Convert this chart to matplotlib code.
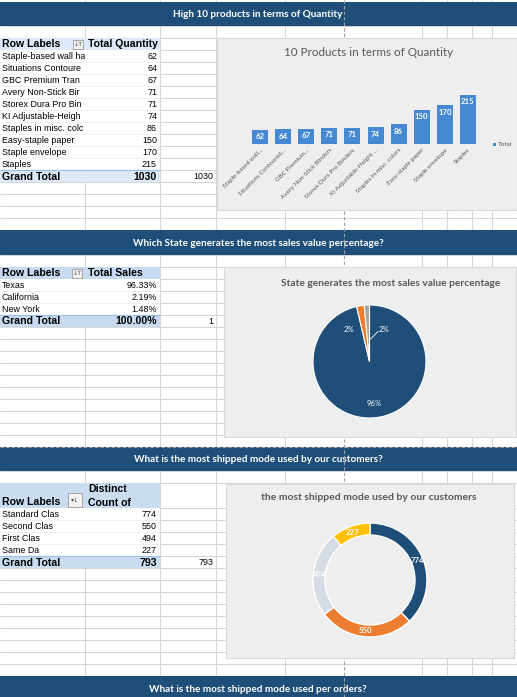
import matplotlib
matplotlib.use('Agg')
import matplotlib.pyplot as plt
from matplotlib.patches import Rectangle

# ---------------- data ----------------
banner_titles = ["High 10 products in terms of Quantity",
                 "Which State generates the most sales value percentage?",
                 "What is the most shipped mode used by our customers?",
                 "What is the most shipped mode used per orders?"]

product_cells = ["Staple-based wall ha", "Situations Contoure", "GBC Premium Tran",
                 "Avery Non-Stick Bir", "Storex Dura Pro Bin", "KI Adjustable-Heigh",
                 "Staples in misc. colc", "Easy-staple paper", "Staple envelope", "Staples"]
product_axis = ["Staple-based wall...", "Situations Contoured...", "GBC Premium...",
                "Avery Non-Stick Binders", "Storex Dura Pro Binders", "KI Adjustable-Height ...",
                "Staples in misc. colors", "Easy-staple paper", "Staple envelope", "Staples"]
quantities = [62, 64, 67, 71, 71, 74, 86, 150, 170, 215]
qty_total = 1030

states = ["Texas", "California", "New York"]
sales_pct = [96.33, 2.19, 1.48]
pie_labels = ["96%", "2%", "2%"]

ship_cells = ["Standard Clas", "Second Clas", "First Clas", "Same Da"]
ship_counts = [774, 550, 494, 227]
ship_total = 793

chart_titles = ["10 Products in terms of Quantity",
                "State generates the most sales value percentage",
                "the most shipped mode used by our customers"]

# ---------------- canvas ----------------
W, H = 517, 697
fig = plt.figure(figsize=(W / 100, H / 100), dpi=100)
bg = fig.add_axes([0, 0, 1, 1])
bg.set_xlim(0, W)
bg.set_ylim(H, 0)
bg.axis('off')


def fbox(x0, y0, x1, y1):
    return [x0 / W, 1 - y1 / H, (x1 - x0) / W, (y1 - y0) / H]


GRID = '#D6D6D6'
DARK = '#1F4E79'
TXT = '#595959'
TABLE_FONT = 'Liberation Sans'
CHART_FONT = 'Lato'

# row boundaries
hl = [26 + 12 * k for k in range(18)] + [255 + 12 * k for k in range(17)] + \
     [471, 483] + [508 + 12 * k for k in range(15)]
bg.hlines(hl, 0, W, color=GRID, lw=0.8, zorder=1)
cols = [85, 160, 216, 285, 422, 447, 472, 492]
bg.vlines(cols, 0, H, color=GRID, lw=0.8, zorder=1)

# banners
banner_rows = [(2, 26), (230, 255), (447, 471), (676, 700)]
for (y0, y1), t in zip(banner_rows, banner_titles):
    bg.add_patch(Rectangle((0, y0), W, y1 - y0, fc=DARK, ec='none', zorder=5))
    yc = (y0 + y1) / 2 + 0.5 if y1 < 697 else 689
    bg.text(258, yc, t, color='white',
            fontsize=7.2, fontweight='bold', family=CHART_FONT,
            ha='center', va='center', zorder=6)

# page-break dashed lines
bg.vlines([344], 0, H, color='#A0A0A0', lw=0.8, linestyles=(0, (3, 2)), zorder=7)
bg.hlines([447], 0, W, color='#A0A0A0', lw=0.8, linestyles=(0, (3, 2)), zorder=7)


def clip_text(x, y, s, x0, x1, **kw):
    t = bg.text(x, y, s, clip_on=True, family=TABLE_FONT, zorder=4, **kw)
    r = Rectangle((x0, 0), x1 - x0, H, transform=bg.transData)
    t.set_clip_path(r)
    return t


def pivot(top, hdr_h, hdr_lines, labels, values, total_txt, colc_txt,
          hdr_fill, tot_fill, icon_box):
    # header
    bg.add_patch(Rectangle((0, top), 160, hdr_h, fc=hdr_fill, ec='none', zorder=2))
    clip_text(2, top + hdr_h - 6, "Row Labels", 0, 85, fontsize=7.6,
              fontweight='bold', va='center')
    if len(hdr_lines) == 1:
        clip_text(88, top + hdr_h - 6, hdr_lines[0], 85, 160, fontsize=7.6,
                  fontweight='bold', va='center')
    else:
        clip_text(88, top + 6, hdr_lines[0], 85, 160, fontsize=7.6,
                  fontweight='bold', va='center')
        clip_text(88, top + 19.5, hdr_lines[1], 85, 160, fontsize=7.6,
                  fontweight='bold', va='center')
    ix0, iy0, ix1, iy1, sym = icon_box
    bg.add_patch(Rectangle((ix0, iy0), ix1 - ix0, iy1 - iy0, fc='#F2F2F2',
                           ec='#9A9A9A', lw=0.6, zorder=3))
    bg.text((ix0 + ix1) / 2, (iy0 + iy1) / 2, sym, fontsize=4.5, color='#555555',
            ha='center', va='center', zorder=4, family='DejaVu Sans')
    # body
    y = top + hdr_h
    nb = len(labels)
    bg.add_patch(Rectangle((0, y), 160, 12 * nb, fc='white', ec='none', zorder=2))
    for i, (lab, v) in enumerate(zip(labels, values)):
        yc = y + 12 * i + 6.5
        clip_text(2, yc, lab, 0, 85, fontsize=6.4, va='center')
        clip_text(157, yc, v, 85, 160, fontsize=6.4, va='center', ha='right')
        bg.hlines(y + 12 * (i + 1), 0, 160, color='#EBEBEB', lw=0.6, zorder=3)
    # total
    ty = y + 12 * nb
    bg.add_patch(Rectangle((0, ty), 160, 12, fc=tot_fill, ec='none', zorder=2))
    bg.hlines(ty, 0, 160, color='#9BC2E6', lw=0.9, zorder=3)
    clip_text(2, ty + 6.5, "Grand Total", 0, 85, fontsize=7.6, fontweight='bold', va='center')
    clip_text(157, ty + 6.5, total_txt, 85, 160, fontsize=7.6, fontweight='bold',
              va='center', ha='right')
    clip_text(213, ty + 6.5, colc_txt, 160, 216, fontsize=6.4, va='center', ha='right')


pivot(38, 12, ["Total Quantity"], product_cells, [str(q) for q in quantities],
      str(qty_total), str(qty_total), '#DDE9F6', '#DDE9F6', (73, 40, 83, 49, '↓T'))
pivot(267, 12, ["Total Sales"], states, [f"{p:.2f}%" for p in sales_pct],
      f"{sum(sales_pct):.2f}%", "1", '#C8DAF0', '#C8DAF0', (72, 269, 82, 278, '↓T'))
pivot(483, 25, ["Distinct", "Count of"], ship_cells, [str(c) for c in ship_counts],
      str(ship_total), str(ship_total), '#CADCF0', '#CADCF0', (68, 493, 82, 507, '▾↓'))

# chart boxes (drawn above the page-break line)
CHART_BG = '#EEEEEE'
for (x0, y0, x1, y1) in [(217, 38, 517, 210), (224, 267, 516, 437), (226, 484, 514, 658)]:
    bg.add_patch(Rectangle((x0, y0), x1 - x0, y1 - y0, fc=CHART_BG, ec='#D9D9D9',
                           lw=0.8, zorder=8))

# ---------- bar chart ----------
bg.text(369, 52, chart_titles[0], fontsize=8.4, color=TXT, family=CHART_FONT,
        ha='center', va='center', zorder=9)
ax = fig.add_axes(fbox(248.5, 87, 479.5, 144))
ax.patch.set_alpha(0)
x = list(range(len(quantities)))
ax.bar(x, quantities, width=0.69, color='#4589D2', zorder=2)
ax.set_xlim(-0.5, len(quantities) - 0.5)
ax.set_ylim(0, 250)
for s in ax.spines.values():
    s.set_visible(False)
ax.set_yticks([])
ax.set_xticks(x)
ax.set_xticklabels(product_axis, rotation=45, ha='right', rotation_mode='anchor',
                   fontsize=4.6, color=TXT, family=CHART_FONT)
ax.tick_params(axis='x', length=0, pad=2.5)
for xi, v in zip(x, quantities):
    ax.annotate(str(v), (xi, v), xytext=(0, -2.5), textcoords='offset points',
                ha='center', va='top', color='white', fontweight='bold',
                fontsize=5.6, family=CHART_FONT)
bg.add_patch(Rectangle((493, 142.5), 3, 3, fc='#4589D2', ec='none', zorder=9))
bg.text(497.5, 144, "Total", fontsize=4.6, color=TXT, family=CHART_FONT,
        va='center', ha='left', zorder=9)

# ---------- pie chart ----------
bg.text(391, 283, chart_titles[1], fontsize=7.3, color=TXT, fontweight='bold',
        family=CHART_FONT, ha='center', va='center', zorder=9)
R = 56.5
m = 62
axp = fig.add_axes(fbox(369.5 - m, 361.5 - m, 369.5 + m, 361.5 + m))
wedges, texts, autos = axp.pie(sales_pct, colors=[DARK, '#ED7D31', '#A5A5A5'],
                               startangle=90, counterclock=False,
                               wedgeprops=dict(edgecolor='white', linewidth=0.8),
                               autopct='%1.0f%%', pctdistance=0.74,
                               textprops=dict(color='white', fontsize=5.6,
                                              family=CHART_FONT))
for a, lab in zip(autos, pie_labels):
    a.set_text(lab)
autos[1].set_position((-0.37, 0.57))
autos[2].set_position((0.25, 0.57))
axp.plot([0.15, 0.08, 0.02], [0.53, 0.46, 0.40], color='white', lw=0.6)
axp.set_xlim(-m / R, m / R)
axp.set_ylim(-m / R, m / R)
axp.set_aspect('equal')
axp.axis('off')

# ---------- donut chart ----------
bg.text(369, 498, chart_titles[2], fontsize=7.5, color=TXT, fontweight='bold',
        family=CHART_FONT, ha='center', va='center', zorder=9)
R2 = 57
axd = fig.add_axes(fbox(370 - m, 580 - m, 370 + m, 580 + m))
tot = sum(ship_counts)
axd.pie(ship_counts, colors=[DARK, '#ED7D31', '#D6DCE5', '#FFC000'],
        startangle=90, counterclock=False,
        wedgeprops=dict(width=0.21, edgecolor='white', linewidth=1),
        autopct=lambda p: f"{round(p * tot / 100)}", pctdistance=0.895,
        textprops=dict(color='white', fontsize=5.6, fontweight='bold', family=CHART_FONT))
axd.set_xlim(-m / R2, m / R2)
axd.set_ylim(-m / R2, m / R2)
axd.set_aspect('equal')
axd.axis('off')

fig.savefig('out.png', dpi=100)
